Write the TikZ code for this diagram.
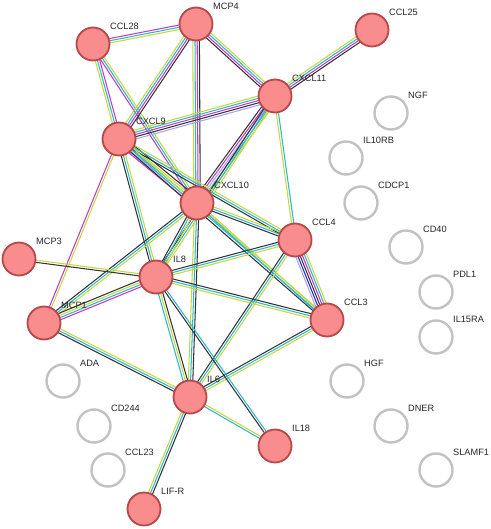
\documentclass[tikz,border=0pt]{standalone}
\usepackage{fontspec}
\setmainfont{Liberation Sans}
\usetikzlibrary{calc}

\pgfdeclarelayer{edges}
\pgfsetlayers{edges,main}

\definecolor{tmgreen}{HTML}{C4D83C}
\definecolor{dbcyan}{HTML}{2DB6D0}
\definecolor{exmag}{HTML}{C03AC4}
\definecolor{coblack}{HTML}{333333}
\definecolor{holav}{HTML}{A6A2F2}
\definecolor{ocblue}{HTML}{2626DC}
\definecolor{protfill}{HTML}{F98C8C}
\definecolor{protline}{HTML}{B8474A}
\definecolor{emptyline}{HTML}{C2C2C2}

\tikzset{
  prot/.style={circle, draw=protline, fill=protfill, line width=1.8pt, minimum size=33pt, inner sep=0pt},
  lonely/.style={circle, draw=emptyline, fill=white, line width=2.4pt, minimum size=33pt, inner sep=0pt},
  lbl/.style={anchor=west, inner sep=0pt, font=\fontsize{9.2}{11}\selectfont, text=black!85},
  edge/.style={line width=1.05pt}
}

% protein node with its name printed top right
\newcommand{\gene}[4][prot]{%
  \node[#1] (#2) at (#3) {};
  \node[lbl] (#2-lbl) at ([shift={(17,-18)}]#2.center) {#4};
}

% one STRING edge = several thin parallel lines, one per evidence colour
\newcommand{\lnk}[3]{%
  \foreach \col [count=\i] in {#3} {\xdef\nlines{\i}}
  \foreach \col [count=\i] in {#3} {
    \pgfmathsetmacro{\off}{(\i-1-(\nlines-1)/2)*2.2}
    \draw[edge, color=\col] ($(#1)!\off pt!90:(#2)$) -- ($(#2)!\off pt!-90:(#1)$);
  }
}

\begin{document}
\begin{tikzpicture}[x=1pt, y=-1pt]
  \useasboundingbox (0,0) rectangle (490,529);

  % connected proteins
  \gene{CCL28}{93,44}{CCL28}
  \gene{MCP4}{196,24}{MCP4}
  \gene{CCL25}{372,30}{CCL25}
  \gene{CXCL11}{275,96}{CXCL11}
  \gene{CXCL9}{119,139}{CXCL9}
  \gene{CXCL10}{197,203}{CXCL10}
  \gene{CCL4}{295,240}{CCL4}
  \gene{MCP3}{19,259}{MCP3}
  \gene{IL8}{156,277}{IL8}
  \gene{MCP1}{44,323}{MCP1}
  \gene{CCL3}{327,320}{CCL3}
  \gene{IL6}{190,397}{IL6}
  \gene{IL18}{275,446}{IL18}
  \gene{LIFR}{144,509}{LIF-R}

  % proteins without partners
  \gene[lonely]{NGF}{391,113}{NGF}
  \gene[lonely]{IL10RB}{346,158}{IL10RB}
  \gene[lonely]{CDCP1}{361,203}{CDCP1}
  \gene[lonely]{CD40}{406,247}{CD40}
  \gene[lonely]{PDL1}{436,292}{PDL1}
  \gene[lonely]{IL15RA}{436,337}{IL15RA}
  \gene[lonely]{HGF}{347,381}{HGF}
  \gene[lonely]{DNER}{391,426}{DNER}
  \gene[lonely]{SLAMF1}{436,470}{SLAMF1}
  \gene[lonely]{ADA}{63,381}{ADA}
  \gene[lonely]{CD244}{94,426}{CD244}
  \gene[lonely]{CCL23}{108,470}{CCL23}

  \begin{pgfonlayer}{edges}
    \lnk{CCL28}{MCP4}{tmgreen,dbcyan,exmag}
    \lnk{CCL28}{CXCL9}{tmgreen,dbcyan,exmag}
    \lnk{CCL28}{CXCL10}{exmag,dbcyan,tmgreen}
    \lnk{MCP4}{CXCL9}{tmgreen,dbcyan,exmag,coblack}
    \lnk{MCP4}{CXCL10}{tmgreen,dbcyan,exmag,coblack}
    \lnk{MCP4}{CXCL11}{coblack,exmag,dbcyan,tmgreen}
    \lnk{CXCL11}{CCL25}{coblack,exmag,dbcyan,tmgreen}
    \lnk{CXCL11}{CXCL9}{tmgreen,dbcyan,exmag,coblack,holav}
    \lnk{CXCL11}{CXCL10}{coblack,exmag,holav,dbcyan,tmgreen}
    \lnk{CXCL11}{CCL4}{tmgreen,dbcyan}
    \lnk{CXCL11}{IL8}{coblack,dbcyan,tmgreen}
    \lnk{CXCL9}{CXCL10}{exmag,holav,dbcyan,tmgreen,coblack}
    \lnk{CXCL9}{CCL4}{coblack,dbcyan,tmgreen}
    \lnk{CXCL9}{CCL3}{coblack,dbcyan,tmgreen}
    \lnk{CXCL9}{IL8}{coblack,dbcyan,tmgreen}
    \lnk{CXCL9}{MCP1}{exmag,tmgreen}
    \lnk{CXCL10}{CCL4}{coblack,dbcyan,tmgreen}
    \lnk{CXCL10}{CCL3}{dbcyan,tmgreen}
    \lnk{CXCL10}{IL8}{coblack,dbcyan,tmgreen}
    \lnk{CXCL10}{MCP1}{coblack,dbcyan,tmgreen}
    \lnk{CXCL10}{IL6}{tmgreen,dbcyan,coblack}
    \lnk{CCL4}{CCL3}{holav,ocblue,coblack,exmag,dbcyan,tmgreen}
    \lnk{CCL4}{IL8}{coblack,dbcyan,tmgreen}
    \lnk{CCL4}{IL6}{coblack,dbcyan,tmgreen}
    \lnk{CCL3}{IL8}{coblack,dbcyan,tmgreen}
    \lnk{CCL3}{IL6}{coblack,dbcyan,tmgreen}
    \lnk{MCP1}{IL8}{exmag,dbcyan,tmgreen,coblack}
    \lnk{MCP1}{IL6}{coblack,dbcyan,tmgreen}
    \lnk{MCP3}{IL8}{coblack,tmgreen}
    \lnk{IL8}{IL6}{dbcyan,tmgreen,coblack}
    \lnk{IL8}{IL18}{coblack,dbcyan}
    \lnk{IL6}{IL18}{dbcyan,tmgreen}
    \lnk{IL6}{LIFR}{tmgreen,dbcyan,coblack}
  \end{pgfonlayer}
\end{tikzpicture}
\end{document}
